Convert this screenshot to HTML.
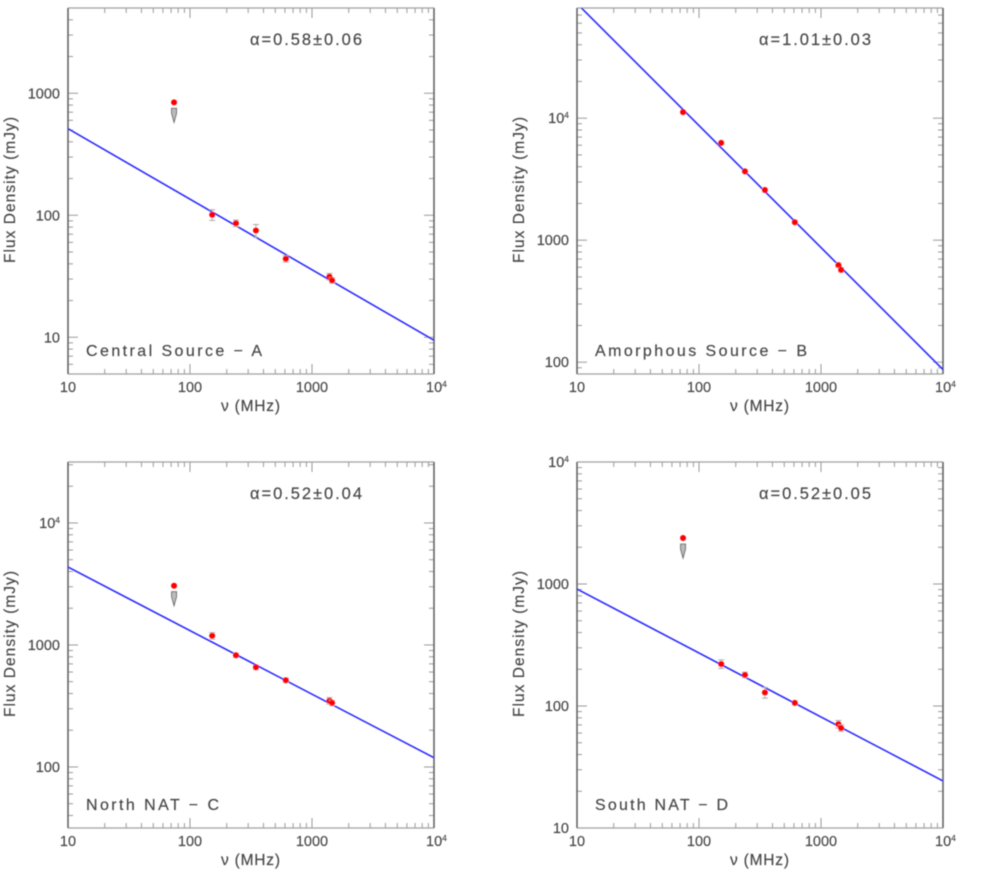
<!DOCTYPE html>
<html lang="en">
<head>
<meta charset="utf-8">
<title>Radio spectra of four sources</title>
<style>
html,body{margin:0;padding:0;background:#fff;width:981px;height:870px;overflow:hidden}
svg{display:block}
text{font-family:"Liberation Sans",sans-serif;fill:#444;stroke:#444;stroke-width:0.15}
</style>
</head>
<body>
<svg id="figure" xmlns="http://www.w3.org/2000/svg" width="981" height="870" viewBox="0 0 981 870">
<defs><filter id="soft" x="-5%" y="-5%" width="110%" height="110%"><feGaussianBlur stdDeviation="0.65"/></filter></defs>
<g id="root" filter="url(#soft)"></g>
</svg>
<script>
// ---- data ----
const freqs = [74, 152, 238, 347, 610, 1390, 1460];
const fluxA = [843, 101, 86, 75, 44, 31.4, 29.3];
const fluxB = [11200, 6280, 3660, 2580, 1404, 624, 571];
const fluxC = [3060, 1190, 823, 656, 514, 349, 335];
const fluxD = [2380, 221, 180, 129, 106, 71, 66];
const errA = [0, 10, 6, 12, 6, 6, 5];
const errB = [0, 3, 3, 3, 3, 4, 4];
const errC = [0, 6, 4, 4, 4, 6, 5];
const errD = [0, 8, 5, 10, 4, 7, 6];
const limitFlags = [true, false, false, false, false, false, false];
const limitFlagsB = [false, false, false, false, false, false, false];
const fitA = [513, 9.45];
const fitB = [87000, 87];
const fitC = [4350, 119];
const fitD = [910, 24.3];
const fitNu = [10, 10000];
const xRange = [10, 10000];
const yRangeA = [5, 5000];
const yRangeB = [80, 80000];
const yRangeC = [31.6, 31600];
const yRangeD = [10, 10000];
const xTickLabels = [10, 100, 1000, 10000];
const yTickLabelsA = [10, 100, 1000];
const yTickLabelsB = [100, 1000, 10000];
const yTickLabelsC = [100, 1000, 10000];
const yTickLabelsD = [10, 100, 1000, 10000];
const alphaTexts = ["α=0.58±0.06", "α=1.01±0.03", "α=0.52±0.04", "α=0.52±0.05"];
const sourceNames = ["Central Source − A", "Amorphous Source − B", "North NAT − C", "South NAT − D"];

// ---- layout ----
const NS = "http://www.w3.org/2000/svg";
const root = document.getElementById("root");
const SIZE = 366;
const panels = [
  {key:"a", left:68, top:8, flux:fluxA, err:errA, fit:fitA, yRange:yRangeA, yTicks:yTickLabelsA, limits:limitFlags, nameLen:176},
  {key:"b", left:577, top:8, flux:fluxB, err:errB, fit:fitB, yRange:yRangeB, yTicks:yTickLabelsB, limits:limitFlagsB, nameLen:212},
  {key:"c", left:68, top:462, flux:fluxC, err:errC, fit:fitC, yRange:yRangeC, yTicks:yTickLabelsC, limits:limitFlags, nameLen:133},
  {key:"d", left:577, top:462, flux:fluxD, err:errD, fit:fitD, yRange:yRangeD, yTicks:yTickLabelsD, limits:limitFlags, nameLen:133}
];

function make(parent, tag, attrs) {
  const e = document.createElementNS(NS, tag);
  for (const k in attrs) e.setAttribute(k, attrs[k]);
  parent.appendChild(e);
  return e;
}
function logScale(range, a, b) {
  const l0 = Math.log10(range[0]), l1 = Math.log10(range[1]);
  return v => a + (Math.log10(v) - l0) / (l1 - l0) * (b - a);
}
function setLabel(t, v) {
  if (v >= 10000) {
    t.appendChild(document.createTextNode("10"));
    const s = make(t, "tspan", {"font-size": 8.5, dy: -5});
    s.textContent = String(Math.round(Math.log10(v)));
  } else {
    t.textContent = String(v);
  }
}
function minorValues(range) {
  const out = [];
  for (let d = Math.floor(Math.log10(range[0])); d <= Math.ceil(Math.log10(range[1])); d++) {
    for (let m = 1; m <= 9; m++) {
      const v = m * Math.pow(10, d);
      if (v >= range[0] * 0.999 && v <= range[1] * 1.001) out.push({v: v, major: m === 1});
    }
  }
  return out;
}

panels.forEach(function (p, i) {
  const x = logScale(xRange, p.left, p.left + SIZE);
  const y = logScale(p.yRange, p.top + SIZE, p.top);
  const g = make(root, "g", {});
  
  

  // ticks
  const ticks = make(g, "g", {stroke: "#9a9a9a", "stroke-width": 1, fill: "none"});
  
  
  minorValues(xRange).forEach(function (t) {
    const len = t.major ? 10 : 5, px = x(t.v);
    const a = make(ticks, "line", {x1: px, x2: px, y1: p.top + SIZE, y2: p.top + SIZE - len});
    
    
    const b = make(ticks, "line", {x1: px, x2: px, y1: p.top, y2: p.top + len});
    
    
  });
  minorValues(p.yRange).forEach(function (t) {
    const len = t.major ? 10 : 5, py = y(t.v);
    const a = make(ticks, "line", {x1: p.left, x2: p.left + len, y1: py, y2: py});
    
    
    const b = make(ticks, "line", {x1: p.left + SIZE, x2: p.left + SIZE - len, y1: py, y2: py});
    
    
  });

  // frame
  const top = make(g, "line", {x1: p.left, x2: p.left + SIZE, y1: p.top, y2: p.top, stroke: "#a0a0a0", "stroke-width": 1.3});
  
  
  const bottom = make(g, "line", {x1: p.left, x2: p.left + SIZE, y1: p.top + SIZE, y2: p.top + SIZE, stroke: "#a0a0a0", "stroke-width": 1.3});
  
  
  const left = make(g, "line", {x1: p.left, x2: p.left, y1: p.top, y2: p.top + SIZE, stroke: "#5c5c5c", "stroke-width": 1.5});
  
  
  const right = make(g, "line", {x1: p.left + SIZE, x2: p.left + SIZE, y1: p.top, y2: p.top + SIZE, stroke: "#5c5c5c", "stroke-width": 1.5});
  
  

  // tick labels
  xTickLabels.forEach(function (v) {
    const t = make(g, "text", {x: x(v), y: p.top + 384, "font-size": 14.5, "text-anchor": v >= 10000 ? "start" : "middle"});
    if (v >= 10000) t.setAttribute("x", x(v) - 8);
    setLabel(t, v);
    
    
  });
  p.yTicks.forEach(function (v) {
    const t = make(g, "text", {x: p.left - 8, y: y(v) + 5, "font-size": 14.5, "text-anchor": "end"});
    setLabel(t, v);
    
    
  });

  // axis titles
  const xt = make(g, "text", {x: p.left + 153, y: p.top + 403, "font-size": 15.5, textLength: 59, lengthAdjust: "spacing"});
  xt.textContent = "ν (MHz)";
  
  
  const yt = make(g, "text", {x: 0, y: 0, "font-size": 15.5, textLength: 146, lengthAdjust: "spacing",
    transform: "translate(" + (p.left - 53) + "," + (p.top + 255) + ") rotate(-90)"});
  yt.textContent = "Flux Density (mJy)";
  
  

  // annotations
  const at = make(g, "text", {x: p.left + 182, y: p.top + 37, "font-size": 16.5, textLength: 112, lengthAdjust: "spacing"});
  at.textContent = alphaTexts[i];
  
  
  const st = make(g, "text", {x: p.left + 18, y: p.top + 348, "font-size": 16, textLength: p.nameLen, lengthAdjust: "spacing"});
  st.textContent = sourceNames[i];
  
  

  // clip
  const clip = make(g, "clipPath", {id: "clip-" + p.key});
  make(clip, "rect", {x: p.left, y: p.top, width: SIZE, height: SIZE});

  // fit line
  const fit = make(g, "line", {x1: x(fitNu[0]), y1: y(p.fit[0]), x2: x(fitNu[1]), y2: y(p.fit[1]),
    stroke: "#2222ff", "stroke-width": 1.5, "clip-path": "url(#clip-" + p.key + ")"});
  
  

  // points
  freqs.forEach(function (nu, j) {
    const px = x(nu), py = y(p.flux[j]);
    if (p.err[j] > 0) {
      const hi = y(p.flux[j] * (1 + p.err[j] / 100)), lo = y(p.flux[j] * (1 - p.err[j] / 100));
      const eb = make(g, "path", {d: "M" + px + " " + hi + "V" + lo + "M" + (px - 3) + " " + hi + "H" + (px + 3) + "M" + (px - 3) + " " + lo + "H" + (px + 3),
        stroke: "#aaa", "stroke-width": 1, fill: "none"});
      
      
    }
    if (p.limits[j]) {
      const ar = make(g, "path", {d: "M" + (px - 2.5) + " " + (py + 6) + "H" + (px + 2.5) + "V" + (py + 11) + "L" + px + " " + (py + 20) + "L" + (px - 2.5) + " " + (py + 11) + "Z",
        stroke: "#666", "stroke-width": 0.9, fill: "#bbb"});
      
      
    }
    const c = make(g, "circle", {cx: px, cy: py, r: 3, fill: "#ff0000"});
    
    
  });
});
</script>
</body>
</html>
